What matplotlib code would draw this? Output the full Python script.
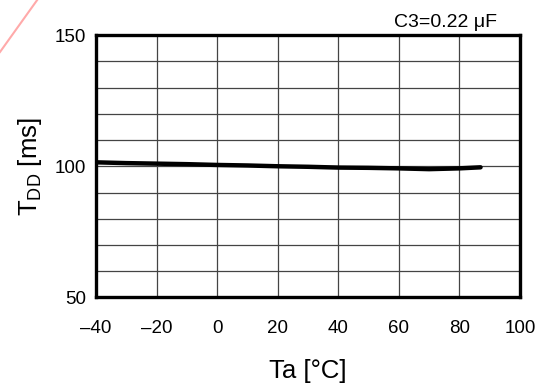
"""
TDD vs. ambient temperature, C3 = 0.22 uF.
"""

import matplotlib
matplotlib.use("Agg")
import matplotlib.pyplot as plt
from matplotlib.lines import Line2D

plt.rcParams["font.family"] = ["Liberation Sans", "DejaVu Sans"]

# Data
ta_c = [-40, -30, -20, -10, 0, 10, 20, 30, 40, 50, 60, 70, 80, 87]
tdd_ms = [101.5, 101.2, 101.0, 100.8, 100.5, 100.3, 100.0, 99.8, 99.5, 99.4, 99.2, 98.9, 99.2, 99.6]

x_ticks = [-40, -20, 0, 20, 40, 60, 80, 100]
y_ticks = [50, 100, 150]


def main():
    fig = plt.figure(figsize=(5.47, 3.85), dpi=100)
    ax = fig.add_axes([0.1755, 0.2273, 0.775, 0.6817])

    ax.plot(ta_c, tdd_ms, color="black", linewidth=3.2, solid_capstyle="round", zorder=3)

    ax.set_xlim(-40, 100)
    ax.set_ylim(50, 150)
    ax.set_xticks(x_ticks)
    ax.set_xticklabels([f"\u2013{abs(v)}" if v < 0 else str(v) for v in x_ticks])
    ax.set_yticks(y_ticks)

    # Rutenett: hver 20 i x, hver 10 i y
    ax.set_yticks(range(50, 151, 10), minor=True)
    ax.grid(which="both", color="#444444", linewidth=0.9)
    ax.tick_params(which="both", length=0)
    ax.tick_params(axis="x", pad=16, labelsize=13.5)
    ax.tick_params(axis="y", pad=7, labelsize=13.5)

    for sp in ax.spines.values():
        sp.set_linewidth(2.4)

    ax.set_xlabel("Ta [\u00b0C]", fontsize=18.5, labelpad=16)
    ax.set_ylabel(r"T$_{\mathregular{DD}}$ [ms]", fontsize=18.5, labelpad=8)

    ax.text(92.5, 151.5, "C3=0.22 \u03bcF", ha="right", va="bottom", fontsize=14)

    # Rosa strek oppe til venstre (vannmerke-rest)
    fig.add_artist(Line2D([0.0, 0.068], [1 - 52 / 385, 1.0], transform=fig.transFigure,
                          color="#ffaaaa", linewidth=1.5))

    fig.savefig("out.png", dpi=100)
    plt.close(fig)


if __name__ == "__main__":
    main()
